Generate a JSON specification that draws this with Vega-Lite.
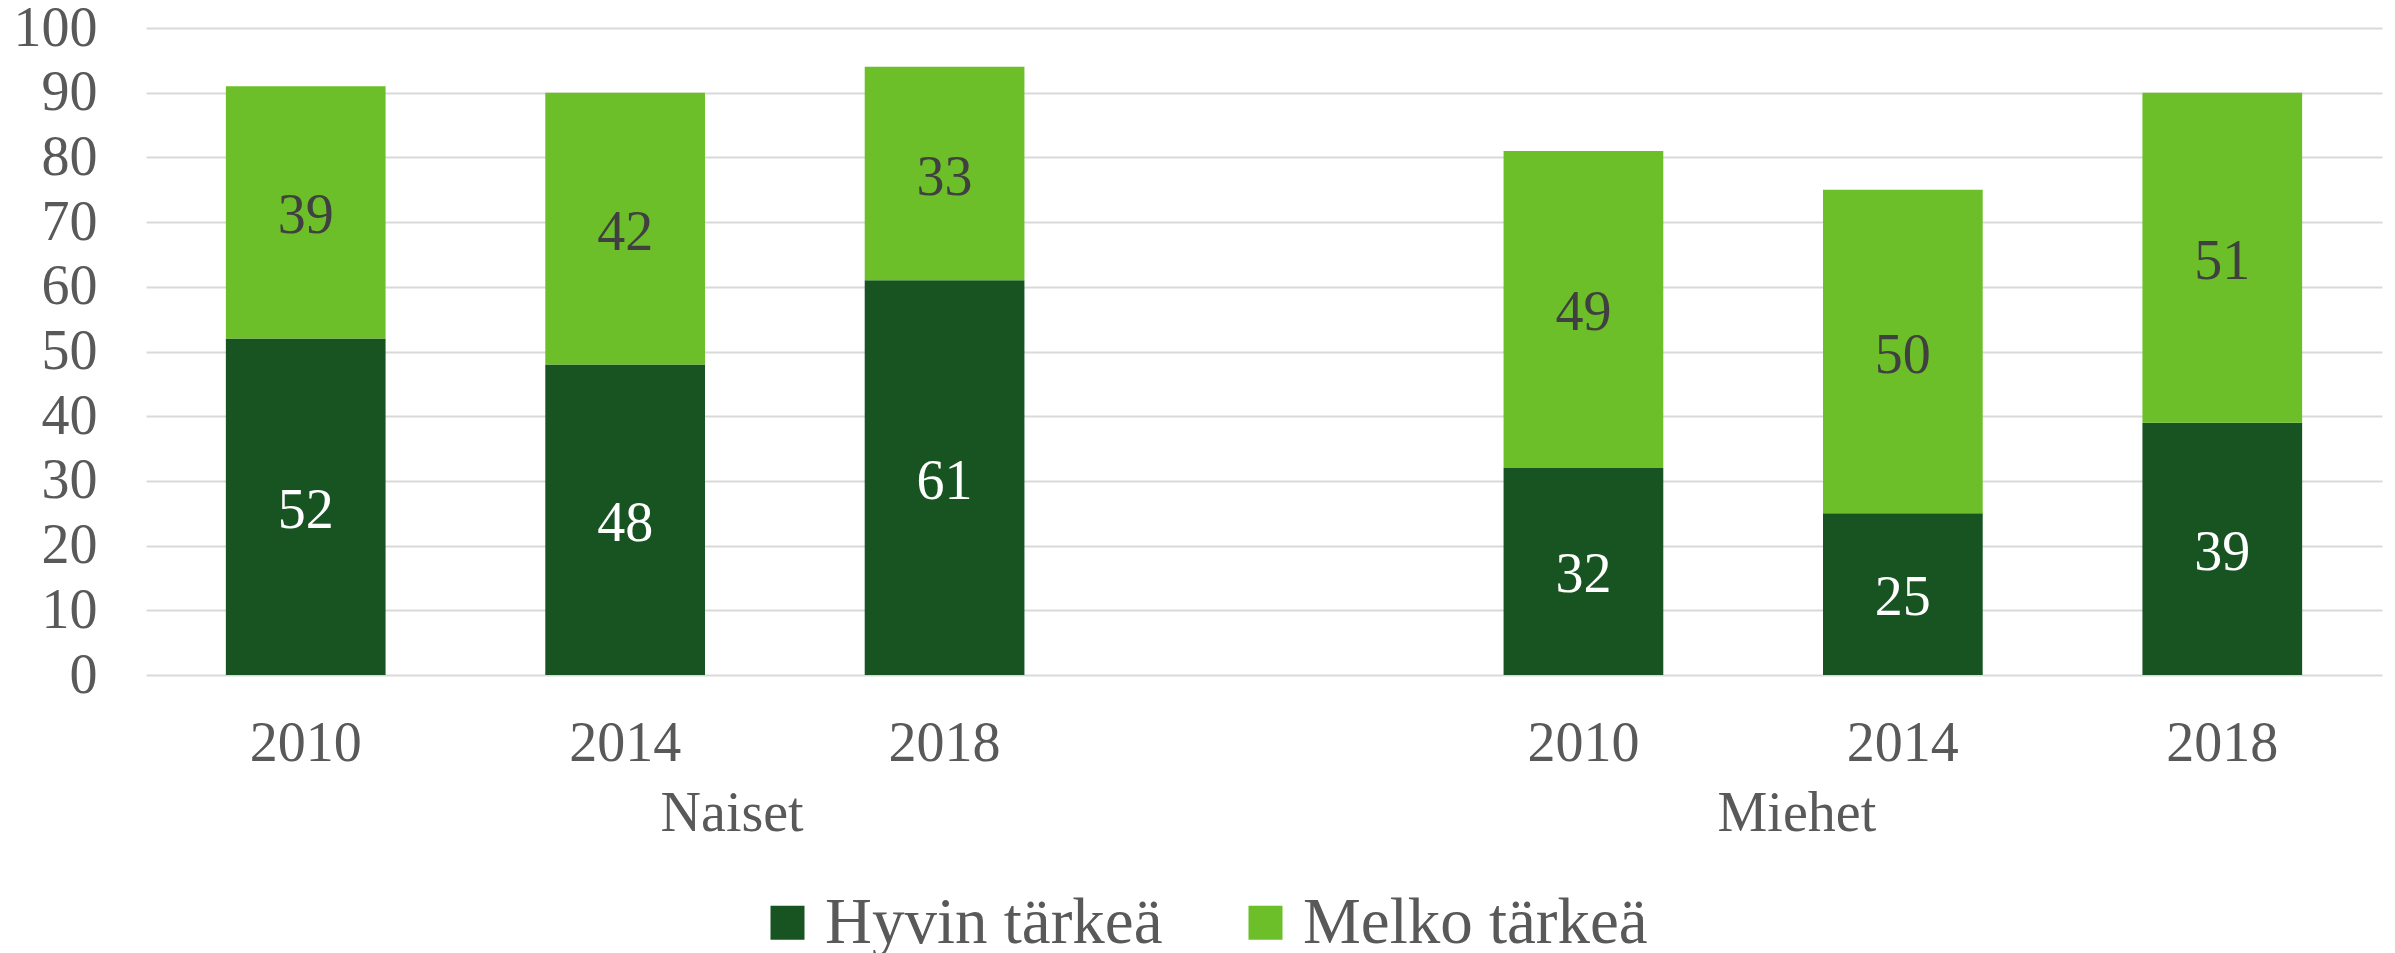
{
  "$schema": "https://vega.github.io/schema/vega-lite/v6.json",
  "width": 2236,
  "height": 647,
  "autosize": {"type": "none"},
  "padding": {"left": 146, "top": 28, "right": 13, "bottom": 278},
  "background": "white",
  "config": {"view": {"stroke": null}, "font": "Liberation Serif"},
  "data": {
    "values": [
      {"group": "Naiset", "year": "2010", "category": "Hyvin tärkeä", "value": 52},
      {"group": "Naiset", "year": "2010", "category": "Melko tärkeä", "value": 39},
      {"group": "Naiset", "year": "2014", "category": "Hyvin tärkeä", "value": 48},
      {"group": "Naiset", "year": "2014", "category": "Melko tärkeä", "value": 42},
      {"group": "Naiset", "year": "2018", "category": "Hyvin tärkeä", "value": 61},
      {"group": "Naiset", "year": "2018", "category": "Melko tärkeä", "value": 33},
      {"group": "Miehet", "year": "2010", "category": "Hyvin tärkeä", "value": 32},
      {"group": "Miehet", "year": "2010", "category": "Melko tärkeä", "value": 49},
      {"group": "Miehet", "year": "2014", "category": "Hyvin tärkeä", "value": 25},
      {"group": "Miehet", "year": "2014", "category": "Melko tärkeä", "value": 50},
      {"group": "Miehet", "year": "2018", "category": "Hyvin tärkeä", "value": 39},
      {"group": "Miehet", "year": "2018", "category": "Melko tärkeä", "value": 51}
    ]
  },
  "transform": [{"calculate": "datum.group + ' ' + datum.year", "as": "slot"}],
  "layer": [
    {
      "encoding": {
        "x": {
          "field": "slot",
          "type": "nominal",
          "sort": null,
          "scale": {
            "domain": ["Naiset 2010", "Naiset 2014", "Naiset 2018", "gap", "Miehet 2010", "Miehet 2014", "Miehet 2018"],
            "paddingInner": 0.5,
            "paddingOuter": 0.25
          },
          "axis": {
            "title": null,
            "orient": "bottom",
            "labelExpr": "datum.value == 'gap' ? '' : slice(datum.value, -4)",
            "labelAngle": 0,
            "ticks": false,
            "domain": false,
            "grid": false,
            "labelFont": "Liberation Serif",
            "labelFontSize": 56,
            "labelColor": "#595959",
            "labelPadding": 41
          }
        }
      },
      "layer": [
        {
          "mark": {"type": "bar"},
          "encoding": {
            "y": {
              "field": "value",
              "type": "quantitative",
              "stack": "zero",
              "scale": {"domain": [0, 100]},
              "axis": {
                "title": null,
                "values": [0, 10, 20, 30, 40, 50, 60, 70, 80, 90, 100],
                "ticks": false,
                "domain": false,
                "labelFont": "Liberation Serif",
                "labelFontSize": 56,
                "labelColor": "#595959",
                "labelPadding": 49,
                "gridColor": "#D9D9D9",
                "gridWidth": 2
              }
            },
            "color": {
              "field": "category",
              "type": "nominal",
              "scale": {"domain": ["Hyvin tärkeä", "Melko tärkeä"], "range": ["#175422", "#6CBF29"]},
              "legend": {
                "orient": "none",
                "direction": "horizontal",
                "legendX": 609,
                "legendY": 862,
                "title": null,
                "labelFont": "Liberation Serif",
                "labelFontSize": 65,
                "labelColor": "#595959",
                "labelLimit": 0,
                "symbolType": "square",
                "symbolSize": 1156,
                "symbolStrokeWidth": 0,
                "labelOffset": 5,
                "columnPadding": 70,
                "padding": 0
              }
            },
            "order": {"field": "category"}
          }
        },
        {
          "transform": [
            {"stack": "value", "groupby": ["slot"], "sort": [{"field": "category"}], "as": ["v0", "v1"]},
            {"calculate": "(datum.v0 + datum.v1) / 2", "as": "mid"}
          ],
          "mark": {"type": "text", "font": "Liberation Serif", "fontSize": 56, "baseline": "middle", "dy": 4},
          "encoding": {
            "y": {"field": "mid", "type": "quantitative", "stack": null},
            "text": {"field": "value", "type": "quantitative"},
            "color": {
              "condition": {"test": "datum.category == 'Hyvin tärkeä'", "value": "#FFFFFF"},
              "value": "#404040"
            }
          }
        }
      ]
    },
    {
      "mark": {"type": "point", "opacity": 0},
      "encoding": {
        "x": {
          "field": "group",
          "type": "nominal",
          "sort": ["Naiset", "Miehet"],
          "scale": {"type": "point", "padding": 0.55},
          "axis": {
            "title": null,
            "orient": "bottom",
            "labelAngle": 0,
            "ticks": false,
            "domain": false,
            "grid": false,
            "labelFont": "Liberation Serif",
            "labelFontSize": 56,
            "labelColor": "#595959",
            "labelPadding": 111
          }
        }
      }
    }
  ],
  "resolve": {"scale": {"x": "independent"}, "axis": {"x": "independent"}}
}
